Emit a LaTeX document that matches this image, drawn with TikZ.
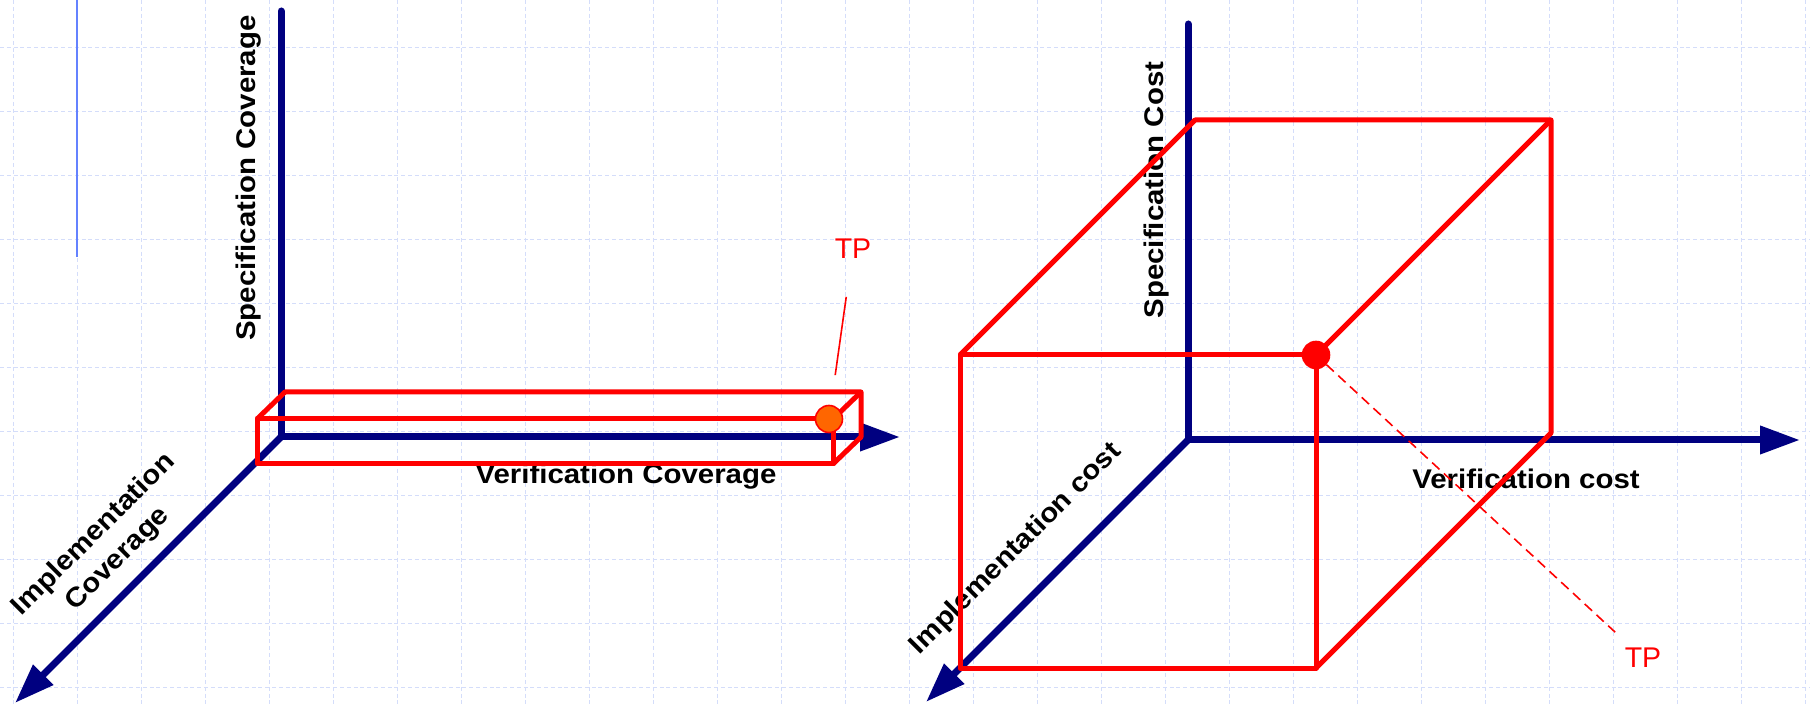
\documentclass[tikz,border=0pt]{standalone}
\usepackage{fontspec}
\setmainfont{Liberation Sans}
\usetikzlibrary{arrows.meta}
\definecolor{axisblue}{RGB}{0,0,128}
\definecolor{gridblue}{RGB}{212,221,250}
\definecolor{markblue}{RGB}{100,130,255}
\definecolor{tporange}{RGB}{255,102,0}

\begin{document}
\begin{tikzpicture}[x=0.5pt, y=-0.5pt, every node/.style={font=\fontsize{13.5}{17}\selectfont\bfseries}]
\tikzset{axis/.style={draw=axisblue, line width=3.5pt, line cap=round},
  axarrow/.style={axis, -{Triangle[length=20pt, width=13.5pt]}},
  edge/.style={draw=red, line width=2.5pt, line join=round},
  gridln/.style={draw=gridblue, line width=0.75pt, dash pattern=on 2pt off 1.4pt},
  lbl/.style={xscale=1.09, inner sep=1pt},
  tplbl/.style={font=\fontsize{14.25}{17}\selectfont, text=red, inner sep=1pt},
  lead/.style={draw=red, line width=0.8pt},
  tpdot/.style={circle, draw=red, line width=0.8pt, minimum size=13.5pt, inner sep=0pt}}
\useasboundingbox (0,0) rectangle (1810,705);
\foreach \i in {0,...,28} \draw[gridln] ({13.4+64*\i},0) -- ({13.4+64*\i},705);
\foreach \j in {0,...,10} \draw[gridln] (0,{47.7+64*\j}) -- (1810,{47.7+64*\j});
\draw[markblue, line width=1pt] (76.5,0) -- (76.5,257);

\coordinate (oL) at (281,437);
\coordinate (yL) at (281,11);
\coordinate (xL) at (900,437);
\coordinate (zL) at (15,703);
\coordinate (oR) at (1188,440);
\coordinate (yR) at (1188,24);
\coordinate (xR) at (1800,440);
\coordinate (zR) at (926,702);

\node[rotate=90, lbl] (specL) at (249,178) {Specification Coverage};
\node[lbl, anchor=base] (verL) at (626,484) {Verification Coverage};
\node[rotate=45, lbl, align=center] (implL) at (106,547) {Implementation\\Coverage};
\node[rotate=90, lbl] (specR) at (1157,190) {Specification Cost};
\node[lbl, anchor=base] (verR) at (1526,488) {Verification cost};
\node[rotate=45, lbl] (implR) at (1016,549) {Implementation cost};

\draw[axis] (oL) -- (yL);
\draw[axarrow] (oL) -- (xL);
\draw[axarrow] (oL) -- (zL);
\draw[axis] (oR) -- (yR);
\draw[axarrow] (oR) -- (xR);
\draw[axarrow] (oR) -- (zR);

\coordinate (bLtl) at (285,392); \coordinate (bLtr) at (861,392); \coordinate (bLbr) at (861,437);
\coordinate (fLtl) at (257,419); \coordinate (fLtr) at (833,419); \coordinate (fLbr) at (833,464);
\draw[edge] (fLtl) rectangle (fLbr);
\draw[edge] (fLtl) -- (bLtl) -- (bLtr) -- (bLbr) -- (fLbr);
\draw[edge] (bLtr) -- (fLtr);

\coordinate (bRtl) at (1195,120); \coordinate (bRtr) at (1551,120); \coordinate (bRbr) at (1551,433);
\coordinate (fRtl) at (960,355); \coordinate (fRtr) at (1316,355); \coordinate (fRbr) at (1316,668);
\draw[edge] (fRtl) rectangle (fRbr);
\draw[edge] (fRtl) -- (bRtl) -- (bRtr) -- (bRbr) -- (fRbr);
\draw[edge] (bRtr) -- (fRtr);

\node[tpdot, fill=tporange] (dotL) at (829,419) {};
\node[tpdot, fill=red] (dotR) at (1316,355) {};
\node[tplbl] (tpL) at (853,249) {TP};
\node[tplbl] (tpR) at (1643,658) {TP};
\draw[lead, shorten <=18pt, shorten >=15pt] (tpL) -- (dotL);
\draw[lead, dash pattern=on 5pt off 3pt, shorten >=10pt] (dotR) -- (tpR);
\end{tikzpicture}
\end{document}
